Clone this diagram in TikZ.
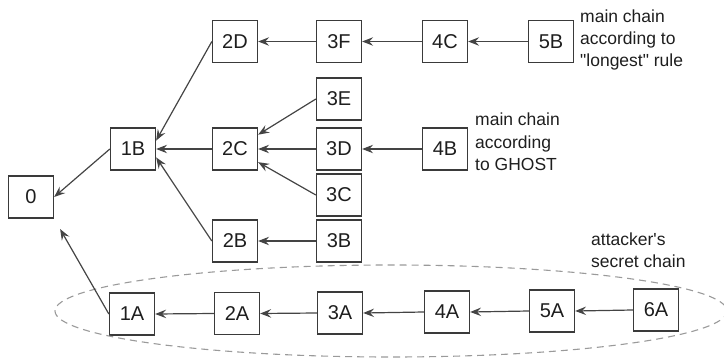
\documentclass[tikz,border=0pt]{standalone}
\usepackage{fontspec}
\setmainfont{Liberation Sans}
\usetikzlibrary{arrows.meta}
\definecolor{boxc}{HTML}{3A3A3A}
\definecolor{linec}{HTML}{444444}
\definecolor{ellc}{HTML}{9A9A9A}
\definecolor{txtc}{HTML}{1E1E1E}
\begin{document}
\begin{tikzpicture}[x=1pt,y=-1pt,
  block/.style={draw=boxc, line width=1.3pt, minimum width=45pt, minimum height=42pt,
    inner sep=0pt, text=txtc, font=\fontsize{20}{23}\selectfont},
  link/.style={draw=linec, line width=1.2pt, -{Stealth[length=11pt,width=8.5pt,inset=4pt]}},
  note/.style={anchor=north west, inner sep=0pt, align=left, text=txtc,
    font=\fontsize{17.5}{22.3}\selectfont},
  secret/.style={draw=ellc, line width=1.1pt, dash pattern=on 7pt off 5pt}]
\useasboundingbox (0,0) rectangle (724,359);
% blocks
\node[block] (n0)  at (31,197) {0};
\node[block] (n1B) at (133,149) {1B};
\node[block] (n2D) at (235,41.5) {2D};
\node[block] (n2C) at (235,149) {2C};
\node[block] (n2B) at (235,241) {2B};
\node[block] (n3F) at (339,41.5) {3F};
\node[block] (n3E) at (339,99) {3E};
\node[block] (n3D) at (339,149) {3D};
\node[block] (n3C) at (339,195) {3C};
\node[block] (n3B) at (339,241) {3B};
\node[block] (n4C) at (445,41.5) {4C};
\node[block] (n4B) at (445,149) {4B};
\node[block] (n5B) at (551,41.5) {5B};
\node[block] (n1A) at (132,314) {1A};
\node[block] (n2A) at (237,313.5) {2A};
\node[block] (n3A) at (340,313) {3A};
\node[block] (n4A) at (447,312) {4A};
\node[block] (n5A) at (552,311) {5A};
\node[block] (n6A) at (656,310) {6A};
% notes
\node[note] (tlong) at (580,9.5) {main chain\\according to\\\textquotedbl longest\textquotedbl{} rule};
\node[note] (tghost) at (475,113) {main chain\\according\\to GHOST};
\node[note] (tatt) at (591,232.5) {attacker\textquotesingle s\\secret chain};
% secret chain ellipse
\draw[secret] (391,311) ellipse [x radius=336, y radius=46];
% connectors
\draw[link] (n3F) -- (n2D);
\draw[link] (n4C) -- (n3F);
\draw[link] (n5B) -- (n4C);
\draw[link] (n2D.west) -- (n1B.20);
\draw[link] (n2C) -- (n1B);
\draw[link] (n3E.west) -- (n2C);
\draw[link] (n3D) -- (n2C);
\draw[link] (n3C.west) -- (n2C);
\draw[link] (n4B) -- (n3D);
\draw[link] (n2B.west) -- (n1B.-20);
\draw[link] (n3B) -- (n2B);
\draw[link] (n1B.west) -- (n0.east);
\draw[link, shorten >=12pt] (n1A.west) -- (n0.south east);
\draw[link] (n2A.west) -- (n1A.east);
\draw[link] (n3A.west) -- (n2A.east);
\draw[link] (n4A.west) -- (n3A.east);
\draw[link] (n5A.west) -- (n4A.east);
\draw[link] (n6A.west) -- (n5A.east);
\end{tikzpicture}
\end{document}
